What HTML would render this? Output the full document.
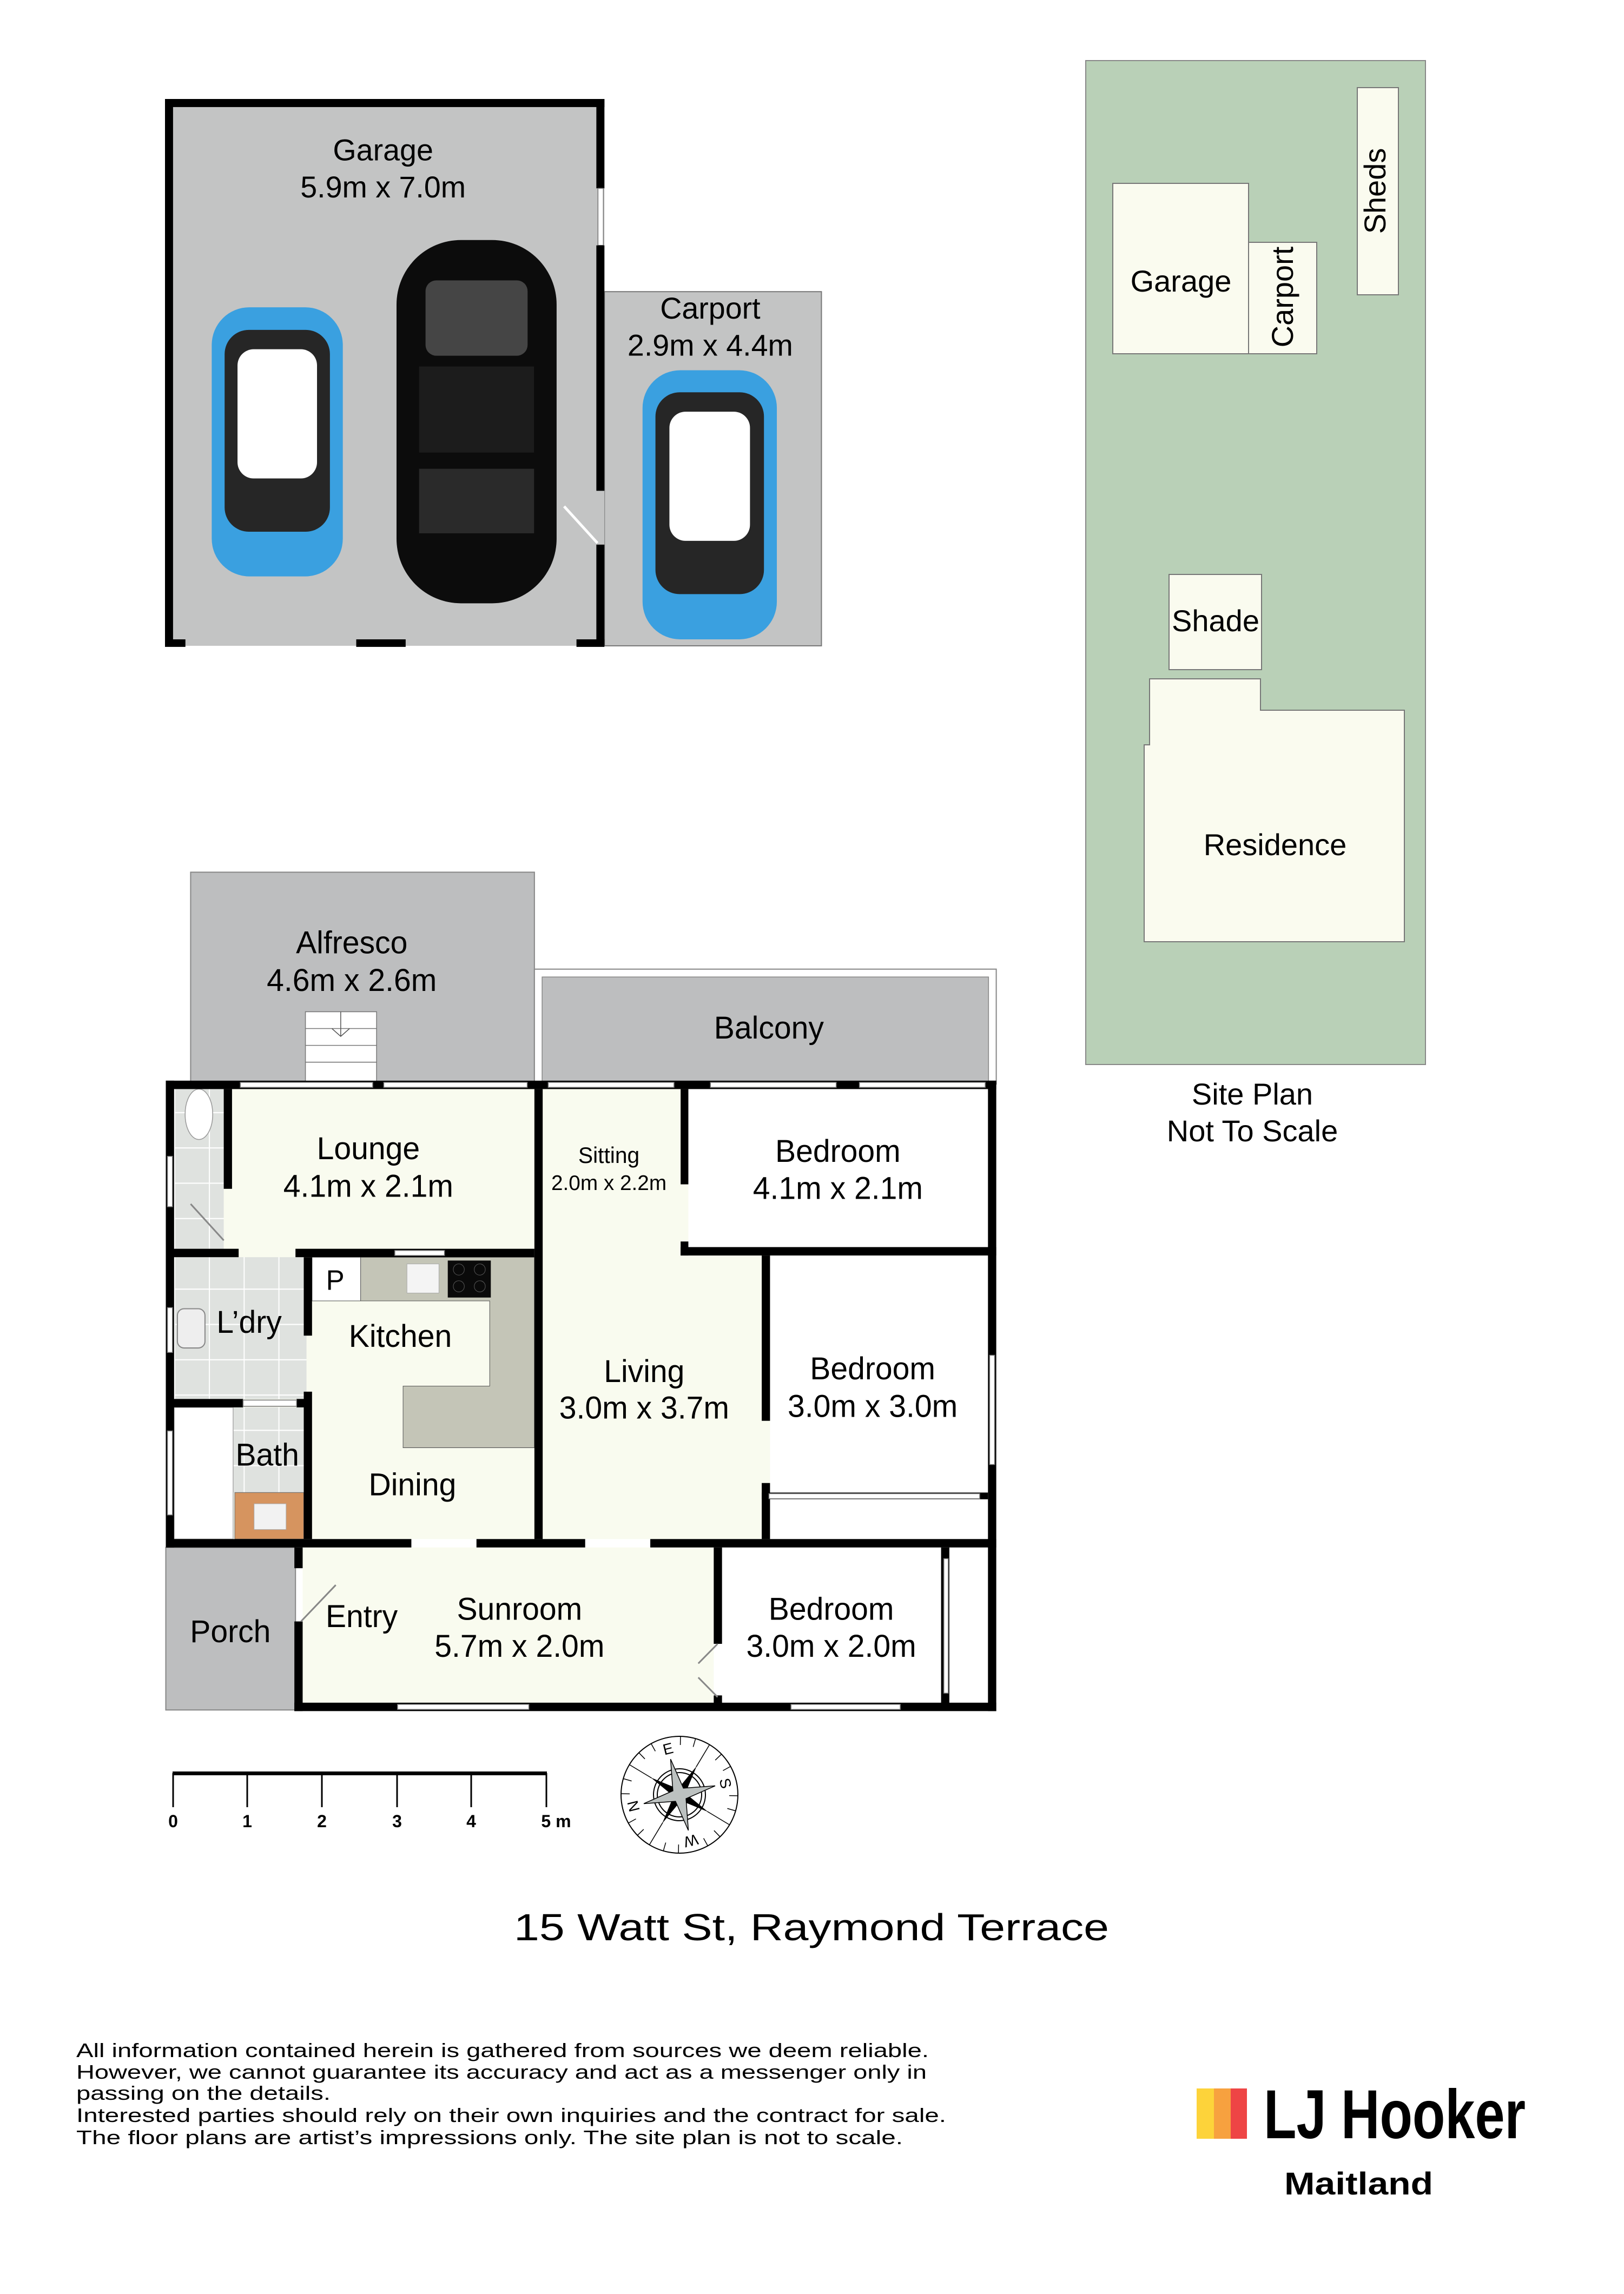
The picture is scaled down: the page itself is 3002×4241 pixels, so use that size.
<!DOCTYPE html>
<html><head><meta charset="utf-8"><style>
html,body{margin:0;padding:0;background:#fff}
svg{display:block}
text{font-family:"Liberation Sans",Arial,sans-serif;fill:#000}
</style></head><body>
<svg width="3002" height="4241" viewBox="0 0 3002 4241" xmlns="http://www.w3.org/2000/svg">
<rect width="3002" height="4241" fill="#fff"/>

<!-- ============ GARAGE / CARPORT ============ -->
<g transform="translate(305,183) scale(0.993,0.995) translate(-305,-183)">
<rect x="1123" y="541" width="404" height="658" fill="#c3c4c4" stroke="#777" stroke-width="2"/>
<rect x="305" y="183" width="818" height="1016" fill="#c3c4c4"/>
<rect x="305" y="183" width="818" height="15" fill="#000"/>
<rect x="305" y="183" width="15" height="1016" fill="#000"/>
<rect x="1108" y="183" width="15" height="166" fill="#000"/>
<rect x="1111" y="349" width="10" height="106" fill="#fff" stroke="#777" stroke-width="1.5"/>
<rect x="1108" y="455" width="15" height="456" fill="#000"/>
<rect x="1108" y="1011" width="15" height="188" fill="#000"/>
<line x1="1048" y1="940" x2="1110" y2="1008" stroke="#fff" stroke-width="5"/>
<rect x="305" y="1187" width="38" height="14" fill="#000"/>
<rect x="661" y="1187" width="92" height="14" fill="#000"/>
<rect x="1071" y="1187" width="52" height="14" fill="#000"/>

<g>
<rect x="392" y="570" width="244" height="500" rx="70" fill="#3aa0e0"/>
<rect x="416" y="612" width="196" height="375" rx="45" fill="#262626"/>
<rect x="440" y="648" width="148" height="240" rx="30" fill="#fff"/>
<rect x="420" y="995" width="188" height="60" rx="25" fill="#3aa0e0"/>
</g>
<g>
<rect x="736" y="445" width="298" height="675" rx="120" fill="#0c0c0c"/>
<rect x="790" y="520" width="190" height="140" rx="20" fill="#454545"/>
<rect x="778" y="680" width="214" height="160" fill="#1c1c1c"/>
<rect x="778" y="870" width="214" height="120" fill="#2a2a2a"/>
</g>
<g>
<rect x="1194" y="687" width="250" height="500" rx="70" fill="#3aa0e0"/>
<rect x="1218" y="728" width="202" height="375" rx="45" fill="#262626"/>
<rect x="1244" y="764" width="150" height="240" rx="30" fill="#fff"/>
</g>
<text x="711" y="297" font-size="56" text-anchor="middle">Garage</text>
<text x="711" y="366" font-size="56" text-anchor="middle">5.9m x 7.0m</text>
<text x="1320" y="591" font-size="56" text-anchor="middle">Carport</text>
<text x="1320" y="660" font-size="56" text-anchor="middle">2.9m x 4.4m</text>
</g>

<!-- ============ SITE PLAN ============ -->
<g transform="translate(-5,-4)">
<rect x="2012" y="116" width="628" height="1856" fill="#b9d0b7" stroke="#888" stroke-width="2"/>
<rect x="2062" y="343" width="251" height="315" fill="#fafbef" stroke="#777" stroke-width="2"/>
<rect x="2313" y="452" width="126" height="206" fill="#fafbef" stroke="#777" stroke-width="2"/>
<rect x="2514" y="166" width="76" height="383" fill="#fafbef" stroke="#777" stroke-width="2"/>
<rect x="2166" y="1066" width="171" height="176" fill="#fafbef" stroke="#777" stroke-width="2"/>
<polygon points="2130,1259 2335,1259 2335,1317 2601,1317 2601,1745 2120,1745 2120,1381 2130,1381" fill="#fafbef" stroke="#777" stroke-width="2"/>
<text x="2188" y="543" font-size="56" text-anchor="middle">Garage</text>
<text x="0" y="0" font-size="56" text-anchor="middle" transform="translate(2395,553) rotate(-90)">Carport</text>
<text x="0" y="0" font-size="56" text-anchor="middle" transform="translate(2566,357) rotate(-90)">Sheds</text>
<text x="2252" y="1171" font-size="56" text-anchor="middle">Shade</text>
<text x="2362" y="1585" font-size="56" text-anchor="middle">Residence</text>
<text x="2320" y="2046" font-size="56" text-anchor="middle">Site Plan</text>
<text x="2320" y="2114" font-size="56" text-anchor="middle">Not To Scale</text>
</g>

<!-- ============ FLOOR PLAN ============ -->
<g transform="translate(281,1599) scale(1.020,1.036)">
<rect x="70" y="13" width="623" height="380" fill="#bdbebf" stroke="#888" stroke-width="2"/>
<rect x="693" y="186" width="837" height="205" fill="#fff" stroke="#888" stroke-width="2"/>
<rect x="707" y="200" width="809" height="190" fill="#bdbebf" stroke="#888" stroke-width="1.5"/>
<rect x="278" y="262" width="129" height="125" fill="#fff" stroke="#777" stroke-width="1.5"/>
<line x1="278" y1="292" x2="407" y2="292" stroke="#777" stroke-width="1.5"/>
<line x1="278" y1="322" x2="407" y2="322" stroke="#777" stroke-width="1.5"/>
<line x1="278" y1="352" x2="407" y2="352" stroke="#777" stroke-width="1.5"/>
<path d="M342 262 V306 M326 292 L342 306 L358 292" stroke="#555" stroke-width="1.5" fill="none"/>
<rect x="25" y="1218" width="235" height="290" fill="#bdbebf" stroke="#888" stroke-width="2"/>

<rect x="40" y="400" width="1475" height="803" fill="#f9fbef"/>
<rect x="273" y="1218" width="745" height="280" fill="#f9fbef"/>
<rect x="972" y="400" width="543" height="283" fill="#fff"/>
<rect x="1120" y="697" width="395" height="506" fill="#fff"/>
<rect x="1033" y="1218" width="482" height="280" fill="#fff"/>
<defs>
<pattern id="tile" x="40" y="0" width="63" height="63" patternUnits="userSpaceOnUse">
<rect width="63" height="63" fill="#dfe2df"/>
<path d="M0 0 H63 M0 0 V63" stroke="#fff" stroke-width="4"/>
</pattern>
</defs>
<rect x="40" y="400" width="90" height="285" fill="url(#tile)"/>
<rect x="40" y="700" width="240" height="253" fill="url(#tile)"/>
<rect x="147" y="968" width="128" height="152" fill="url(#tile)"/>
<rect x="40" y="968" width="107" height="235" fill="#fff" stroke="#aaa" stroke-width="1.5"/>
<rect x="150" y="1120" width="125" height="83" fill="#d6945f" stroke="#666" stroke-width="1"/>
<rect x="185" y="1140" width="58" height="46" fill="#f2f2f2" stroke="#aaa"/>
<ellipse cx="85" cy="445" rx="25" ry="45" fill="#fff" stroke="#999" stroke-width="1.5"/>
<rect x="46" y="792" width="50" height="70" rx="12" fill="#eee" stroke="#888" stroke-width="2"/>

<polygon points="378,700 693,700 693,1040 455,1040 455,930 612,930 612,778 378,778" fill="#c4c5b7" stroke="#555" stroke-width="1"/>
<rect x="290" y="700" width="88" height="78" fill="#fff" stroke="#555" stroke-width="1"/>
<rect x="462" y="712" width="58" height="52" fill="#f4f4f4" stroke="#aaa"/>
<rect x="536" y="706" width="78" height="66" fill="#0a0a0a"/>
<circle cx="556" cy="722" r="10" fill="none" stroke="#555"/>
<circle cx="594" cy="722" r="10" fill="none" stroke="#555"/>
<circle cx="556" cy="752" r="10" fill="none" stroke="#555"/>
<circle cx="594" cy="752" r="10" fill="none" stroke="#555"/>

<g fill="#000">
<rect x="25" y="385" width="1505" height="15"/>
<rect x="25" y="385" width="15" height="833"/>
<rect x="1515" y="385" width="15" height="1125"/>
<rect x="25" y="1203" width="445" height="15"/>
<rect x="588" y="1203" width="197" height="15"/>
<rect x="903" y="1203" width="627" height="15"/>
<rect x="258" y="1218" width="15" height="37"/>
<rect x="258" y="1350" width="15" height="160"/>
<rect x="258" y="1495" width="1272" height="15"/>
<rect x="130" y="400" width="15" height="178"/>
<rect x="25" y="685" width="132" height="15"/>
<rect x="260" y="685" width="433" height="15"/>
<rect x="275" y="700" width="15" height="140"/>
<rect x="275" y="940" width="15" height="263"/>
<rect x="25" y="953" width="140" height="15"/>
<rect x="262" y="953" width="25" height="15"/>
<rect x="693" y="400" width="15" height="803"/>
<rect x="958" y="400" width="14" height="170"/>
<rect x="958" y="672" width="14" height="25"/>
<rect x="958" y="682" width="572" height="15"/>
<rect x="1105" y="697" width="15" height="295"/>
<rect x="1105" y="1103" width="15" height="100"/>
<rect x="1105" y="1120" width="410" height="12"/>
<rect x="1018" y="1218" width="15" height="172"/>
<rect x="1018" y="1482" width="15" height="20"/>
<rect x="1430" y="1218" width="15" height="280"/>
</g>
<g fill="#fff" stroke="#777" stroke-width="1.5">
<rect x="160" y="388" width="240" height="9"/>
<rect x="420" y="388" width="260" height="9"/>
<rect x="718" y="388" width="228" height="9"/>
<rect x="1012" y="388" width="228" height="9"/>
<rect x="1282" y="388" width="228" height="9"/>
<rect x="440" y="688" width="90" height="9"/>
<rect x="28" y="520" width="9" height="90"/>
<rect x="28" y="790" width="9" height="80"/>
<rect x="28" y="1010" width="9" height="150"/>
<rect x="1518" y="875" width="9" height="195"/>
<rect x="1118" y="1122" width="382" height="9"/>
<rect x="445" y="1498" width="238" height="9"/>
<rect x="1158" y="1498" width="198" height="9"/>
<rect x="1435" y="1238" width="8" height="240"/>
<rect x="165" y="955" width="97" height="11"/>
</g>
<g stroke="#888" stroke-width="3">
<line x1="70" y1="605" x2="130" y2="670"/>
<line x1="270" y1="1350" x2="333" y2="1285"/>
<line x1="990" y1="1425" x2="1025" y2="1390"/>
<line x1="990" y1="1450" x2="1025" y2="1485"/>
</g>

<g font-size="56" text-anchor="middle">
<text x="362" y="158">Alfresco</text>
<text x="362" y="225">4.6m x 2.6m</text>
<text x="1118" y="310">Balcony</text>
<text x="392" y="525">Lounge</text>
<text x="392" y="592">4.1m x 2.1m</text>
<text x="828" y="532" font-size="40">Sitting</text>
<text x="828" y="580" font-size="38">2.0m x 2.2m</text>
<text x="1243" y="530">Bedroom</text>
<text x="1243" y="596">4.1m x 2.1m</text>
<text x="332" y="758" font-size="50">P</text>
<text x="176" y="835">L’dry</text>
<text x="450" y="860">Kitchen</text>
<text x="892" y="923">Living</text>
<text x="892" y="988">3.0m x 3.7m</text>
<text x="1306" y="918">Bedroom</text>
<text x="1306" y="985">3.0m x 3.0m</text>
<text x="209" y="1072">Bath</text>
<text x="472" y="1125">Dining</text>
<text x="142" y="1387">Porch</text>
<text x="380" y="1360">Entry</text>
<text x="666" y="1347">Sunroom</text>
<text x="666" y="1413">5.7m x 2.0m</text>
<text x="1231" y="1347">Bedroom</text>
<text x="1231" y="1413">3.0m x 2.0m</text>
</g>
</g>

<!-- ============ SCALE BAR ============ -->
<rect x="319" y="3275" width="692" height="7" fill="#000"/>
<g stroke="#000" stroke-width="3">
<line x1="320" y1="3278" x2="320" y2="3341"/>
<line x1="457" y1="3278" x2="457" y2="3341"/>
<line x1="595" y1="3278" x2="595" y2="3341"/>
<line x1="734" y1="3278" x2="734" y2="3341"/>
<line x1="871" y1="3278" x2="871" y2="3341"/>
<line x1="1010" y1="3278" x2="1010" y2="3341"/>
</g>
<g font-size="32" font-weight="bold" text-anchor="middle">
<text x="320" y="3378">0</text><text x="457" y="3378">1</text><text x="595" y="3378">2</text>
<text x="734" y="3378">3</text><text x="871" y="3378">4</text><text x="1028" y="3378">5 m</text>
</g>

<!-- ============ COMPASS ============ -->
<g transform="translate(1256,3318) rotate(-104)">
<circle r="108" fill="#fff" stroke="#000" stroke-width="2"/>
<circle r="48" fill="none" stroke="#000" stroke-width="2"/>
<circle r="41" fill="none" stroke="#000" stroke-width="2"/>
<g stroke="#000" stroke-width="1.5">
<line x1="0" y1="-108" x2="0" y2="-92" transform="rotate(15)"/>
<line x1="0" y1="-108" x2="0" y2="-92" transform="rotate(30)"/>
<line x1="0" y1="-108" x2="0" y2="-60" transform="rotate(45)"/>
<line x1="0" y1="-108" x2="0" y2="-92" transform="rotate(60)"/>
<line x1="0" y1="-108" x2="0" y2="-92" transform="rotate(75)"/>
<line x1="0" y1="-108" x2="0" y2="-92" transform="rotate(105)"/>
<line x1="0" y1="-108" x2="0" y2="-92" transform="rotate(120)"/>
<line x1="0" y1="-108" x2="0" y2="-60" transform="rotate(135)"/>
<line x1="0" y1="-108" x2="0" y2="-92" transform="rotate(150)"/>
<line x1="0" y1="-108" x2="0" y2="-92" transform="rotate(165)"/>
<line x1="0" y1="-108" x2="0" y2="-92" transform="rotate(195)"/>
<line x1="0" y1="-108" x2="0" y2="-92" transform="rotate(210)"/>
<line x1="0" y1="-108" x2="0" y2="-60" transform="rotate(225)"/>
<line x1="0" y1="-108" x2="0" y2="-92" transform="rotate(240)"/>
<line x1="0" y1="-108" x2="0" y2="-92" transform="rotate(255)"/>
<line x1="0" y1="-108" x2="0" y2="-92" transform="rotate(285)"/>
<line x1="0" y1="-108" x2="0" y2="-92" transform="rotate(300)"/>
<line x1="0" y1="-108" x2="0" y2="-60" transform="rotate(315)"/>
<line x1="0" y1="-108" x2="0" y2="-92" transform="rotate(330)"/>
<line x1="0" y1="-108" x2="0" y2="-92" transform="rotate(345)"/>
</g>
<polygon points="0,-62 8,-8 62,0 8,8 0,62 -8,8 -62,0 -8,-8" fill="#000" transform="rotate(45)"/>
<polygon points="0,-68 10,-10 68,0 10,10 0,68 -10,10 -68,0 -10,-10" fill="#bcc1c0" stroke="#000" stroke-width="1.5"/>
<g font-size="28" text-anchor="middle">
<text x="0" y="-78">N</text>
<text x="0" y="-78" transform="rotate(90)">E</text>
<text x="0" y="-78" transform="rotate(180)">S</text>
<text x="0" y="-78" transform="rotate(270)">W</text>
</g>
</g>

<!-- ============ TITLE ============ -->
<text x="950" y="3587" font-size="70" textLength="1100" lengthAdjust="spacingAndGlyphs">15 Watt St, Raymond Terrace</text>

<!-- ============ DISCLAIMER ============ -->
<g font-size="36">
<text x="141" y="3803" textLength="1576" lengthAdjust="spacingAndGlyphs">All information contained herein is gathered from sources we deem reliable.</text>
<text x="141" y="3843" textLength="1572" lengthAdjust="spacingAndGlyphs">However, we cannot guarantee its accuracy and act as a messenger only in</text>
<text x="141" y="3882" textLength="470" lengthAdjust="spacingAndGlyphs">passing on the details.</text>
<text x="141" y="3923" textLength="1608" lengthAdjust="spacingAndGlyphs">Interested parties should rely on their own inquiries and the contract for sale.</text>
<text x="141" y="3964" textLength="1528" lengthAdjust="spacingAndGlyphs">The floor plans are artist’s impressions only. The site plan is not to scale.</text>
</g>

<!-- ============ LOGO ============ -->
<g transform="translate(-13,-2)">
<rect x="2225" y="3863" width="32" height="93" fill="#fdd33a"/>
<rect x="2257" y="3863" width="31" height="93" fill="#f7a13f"/>
<rect x="2288" y="3863" width="30" height="93" fill="#ee4545"/>
<text x="2349" y="3955" font-size="128" font-weight="bold" textLength="484" lengthAdjust="spacingAndGlyphs">LJ Hooker</text>
<text x="2387" y="4059" font-size="58" font-weight="bold" textLength="275" lengthAdjust="spacingAndGlyphs">Maitland</text>
</g>
</svg>
</body></html>
